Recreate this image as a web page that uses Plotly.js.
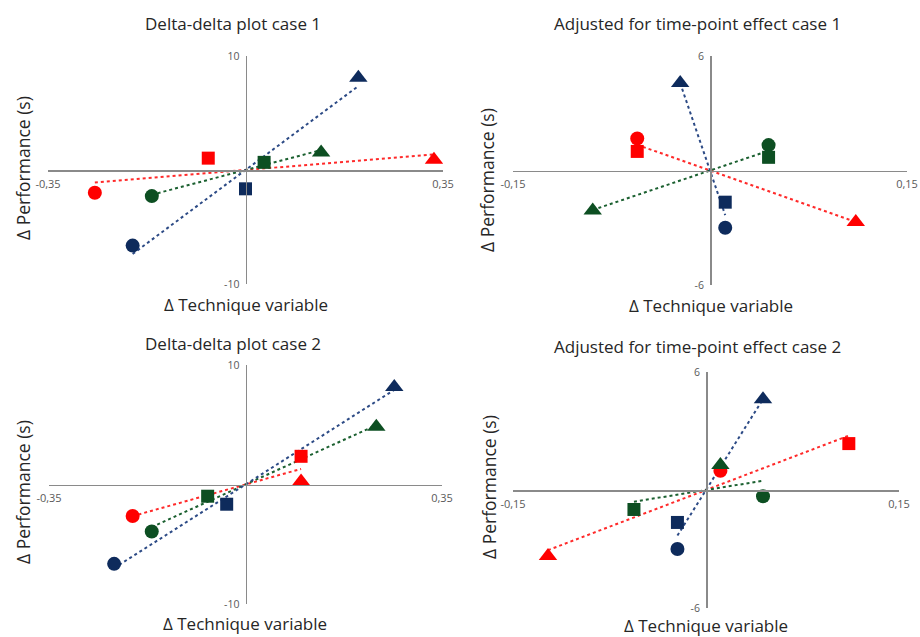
<!DOCTYPE html>
<html>
<head>
<meta charset="utf-8">
<script src="https://cdn.plot.ly/plotly-3.0.1.min.js"></script>
<style>html,body{margin:0;padding:0;background:#fff;}#chart{width:920px;height:637px;}</style>
</head>
<body>
<div id="chart"></div>
<script>
// Panel titles and axis labels
const panelTitles = ["Delta-delta plot case 1", "Adjusted for time-point effect case 1",
                     "Delta-delta plot case 2", "Adjusted for time-point effect case 2"];
const xTitle = "Δ Technique variable";
const yTitle = "Δ Performance (s)";

// Axis ranges / tick labels per panel
const xLimits = [0.35, 0.15, 0.35, 0.15];
const yLimits = [10, 6, 10, 6];
const xTickText = [["-0,35", "0,35"], ["-0,15", "0,15"], ["-0,35", "0,35"], ["-0,15", "0,15"]];
const yTickText = [["-10", "10"], ["-6", "6"], ["-10", "10"], ["-6", "6"]];

// Point order in each series: circle, square, triangle
const shapes = ["circle", "square", "triangle-up"];

// Panel 1
const p1RedX = [-0.267, -0.066, 0.334];  const p1RedY = [-2.0, 1.04, 0.9];
const p1GreenX = [-0.166, 0.033, 0.134]; const p1GreenY = [-2.29, 0.67, 1.54];
const p1BlueX = [-0.200, 0.000, 0.200];  const p1BlueY = [-6.63, -1.65, 8.1];
// Panel 2
const p2RedX = [-0.0554, -0.0554, 0.111]; const p2RedY = [1.68, 1.0, -2.7];
const p2GreenX = [0.0446, 0.0446, -0.0893]; const p2GreenY = [1.33, 0.69, -2.09];
const p2BlueX = [0.0116, 0.0116, -0.0227]; const p2BlueY = [-3.0, -1.66, 4.59];
// Panel 3
const p3RedX = [-0.201, 0.099, 0.099];  const p3RedY = [-2.64, 2.36, 0.26];
const p3GreenX = [-0.167, -0.0674, 0.233]; const p3GreenY = [-3.93, -0.98, 4.84];
const p3BlueX = [-0.234, -0.0335, 0.265]; const p3BlueY = [-6.64, -1.65, 8.15];
// Panel 4
const p4RedX = [0.0112, 0.111, -0.1228]; const p4RedY = [0.98, 2.36, -3.36];
const p4GreenX = [0.0443, -0.056, 0.0112]; const p4GreenY = [-0.32, -0.99, 1.27];
const p4BlueX = [-0.0222, -0.0222, 0.0443]; const p4BlueY = [-3.0, -1.65, 4.61];

const colors = {red: "#FF0000", green: "#0D4F22", blue: "#0E2B5C"};
const lineColors = {red: "#FF2A2A", green: "#1B6030", blue: "#2C4A85"};

const panels = [
  {red: [p1RedX, p1RedY], green: [p1GreenX, p1GreenY], blue: [p1BlueX, p1BlueY]},
  {red: [p2RedX, p2RedY], green: [p2GreenX, p2GreenY], blue: [p2BlueX, p2BlueY]},
  {red: [p3RedX, p3RedY], green: [p3GreenX, p3GreenY], blue: [p3BlueX, p3BlueY]},
  {red: [p4RedX, p4RedY], green: [p4GreenX, p4GreenY], blue: [p4BlueX, p4BlueY]}
];

// layout geometry (pixels in a 920x637 page)
const W = 920, H = 637;
const boxes = [
  {x0: 48, x1: 443, y0: 56, y1: 284},
  {x0: 513, x1: 907, y0: 56, y1: 285},
  {x0: 49, x1: 442, y0: 365, y1: 604},
  {x0: 513, x1: 899, y0: 372, y1: 608}
];
const titlePos = [[233, 23], [697, 23], [233, 343], [697, 346]];
const yTitlePos = [[23, 168], [487, 180], [23, 492], [489, 487]];
const xTitlePos = [[246, 304], [711, 305], [245, 623], [706, 625]];

const fontFam = "Open Sans, Liberation Sans, sans-serif";
const traces = [];
const layout = {
  width: W, height: H, showlegend: false,
  margin: {l: 0, r: 0, t: 0, b: 0},
  paper_bgcolor: "#fff", plot_bgcolor: "rgba(0,0,0,0)",
  annotations: []
};

panels.forEach((p, i) => {
  const n = i === 0 ? "" : String(i + 1);
  const xa = "x" + n, ya = "y" + n;
  const b = boxes[i];
  const xd = [b.x0 / W, b.x1 / W];
  const yd = [1 - b.y1 / H, 1 - b.y0 / H];
  layout["xaxis" + n] = {
    domain: xd, anchor: "free", position: (yd[0] + yd[1]) / 2,
    range: [-xLimits[i], xLimits[i]], showgrid: false, zeroline: false,
    showline: true, linecolor: "#8a8a8a", linewidth: 1.5,
    tickvals: [-xLimits[i], xLimits[i]], ticktext: xTickText[i], ticks: "",
    ticklabelstandoff: 3,
    tickfont: {family: fontFam, size: 11, color: "#595959"}, fixedrange: true
  };
  layout["yaxis" + n] = {
    domain: yd, anchor: "free", position: (xd[0] + xd[1]) / 2,
    range: [-yLimits[i], yLimits[i]], showgrid: false, zeroline: false,
    showline: true, linecolor: "#8a8a8a", linewidth: 1.5,
    tickvals: [-yLimits[i], yLimits[i]], ticktext: yTickText[i], ticks: "",
    ticklabelstandoff: 4,
    tickfont: {family: fontFam, size: 10.5, color: "#595959"}, fixedrange: true
  };
  ["red", "green", "blue"].forEach(c => {
    const xs = p[c][0], ys = p[c][1];
    // trend line through origin (least squares), spanning the series' x extent
    let sxy = 0, sxx = 0;
    xs.forEach((x, k) => { sxy += x * ys[k]; sxx += x * x; });
    const slope = sxy / sxx;
    const xmin = Math.min(...xs), xmax = Math.max(...xs);
    traces.push({
      type: "scatter", mode: "lines", xaxis: xa, yaxis: ya,
      x: [xmin, xmax], y: [slope * xmin, slope * xmax],
      line: {color: lineColors[c], width: 2, dash: "dot"}, hoverinfo: "skip"
    });
  });
  ["red", "green", "blue"].forEach(c => {
    traces.push({
      type: "scatter", mode: "markers", xaxis: xa, yaxis: ya,
      x: p[c][0], y: p[c][1],
      marker: {symbol: shapes, size: [14, 13, 16], color: colors[c], opacity: 1,
               line: {width: 0}}
    });
  });
  layout.annotations.push({
    text: panelTitles[i], xref: "paper", yref: "paper",
    x: titlePos[i][0] / W, y: 1 - titlePos[i][1] / H,
    xanchor: "center", yanchor: "middle", showarrow: false,
    font: {family: fontFam, size: 17, color: "#262626"}
  });
  layout.annotations.push({
    text: yTitle, xref: "paper", yref: "paper", textangle: -90,
    x: yTitlePos[i][0] / W, y: 1 - yTitlePos[i][1] / H,
    xanchor: "center", yanchor: "middle", showarrow: false,
    font: {family: fontFam, size: 17.5, color: "#262626"}
  });
  layout.annotations.push({
    text: xTitle, xref: "paper", yref: "paper",
    x: xTitlePos[i][0] / W, y: 1 - xTitlePos[i][1] / H,
    xanchor: "center", yanchor: "middle", showarrow: false,
    font: {family: fontFam, size: 17, color: "#262626"}
  });
});

Plotly.newPlot("chart", traces, layout, {displayModeBar: false, staticPlot: true});
</script>
</body>
</html>
